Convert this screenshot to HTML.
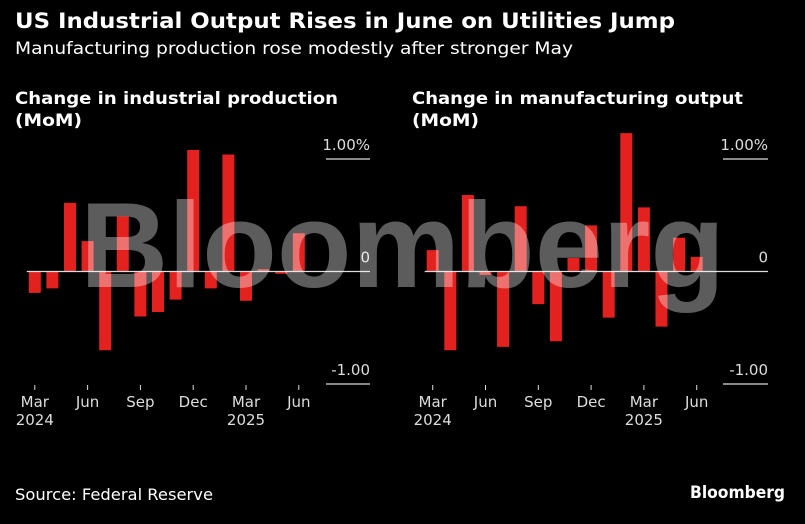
<!DOCTYPE html>
<html><head><meta charset="utf-8"><style>
html,body{margin:0;padding:0;background:#000;}
body{width:805px;height:520px;overflow:hidden;font-family:"DejaVu Sans","Liberation Sans",sans-serif;}
svg text{font-family:"DejaVu Sans","Liberation Sans",sans-serif;}
svg text.wm{font-family:"Liberation Sans",sans-serif;}
</style></head><body>
<svg width="805" height="520" viewBox="0 0 805 520" id="fig">
<rect width="805" height="520" fill="#000"/>
<text x="15" y="28" fill="#fff" font-size="21" font-weight="bold" textLength="660" lengthAdjust="spacingAndGlyphs">US Industrial Output Rises in June on Utilities Jump</text>
<text x="15" y="54" fill="#fff" font-size="17" textLength="558" lengthAdjust="spacingAndGlyphs">Manufacturing production rose modestly after stronger May</text>
<text x="15" y="104" fill="#fff" font-size="17" font-weight="bold" textLength="323" lengthAdjust="spacingAndGlyphs">Change in industrial production</text>
<text x="15" y="126" fill="#fff" font-size="17" font-weight="bold" textLength="67" lengthAdjust="spacingAndGlyphs">(MoM)</text>
<text x="412" y="104" fill="#fff" font-size="17" font-weight="bold" textLength="331" lengthAdjust="spacingAndGlyphs">Change in manufacturing output</text>
<text x="412" y="126" fill="#fff" font-size="17" font-weight="bold" textLength="67" lengthAdjust="spacingAndGlyphs">(MoM)</text>
<g id="left"></g>
<g id="right"></g>
<text class="wm" x="80" y="287" fill="rgba(255,255,255,0.36)" font-size="122" font-weight="bold" textLength="645" lengthAdjust="spacingAndGlyphs">Bloomberg</text>
<text x="15" y="500" fill="#fff" font-size="16" textLength="198" lengthAdjust="spacingAndGlyphs">Source: Federal Reserve</text>
<text x="690" y="498" fill="#fff" font-size="17" font-weight="bold" textLength="95" lengthAdjust="spacingAndGlyphs">Bloomberg</text>
</svg>
<script>
const months = ["Mar","Apr","May","Jun","Jul","Aug","Sep","Oct","Nov","Dec","Jan","Feb","Mar","Apr","May","Jun"];
const industrialValues = [-0.19,-0.15,0.61,0.27,-0.70,0.49,-0.40,-0.36,-0.25,1.08,-0.15,1.04,-0.26,0.02,-0.02,0.34];
const manufacturingValues = [0.19,-0.70,0.68,-0.03,-0.67,0.58,-0.29,-0.62,0.12,0.41,-0.41,1.23,0.57,-0.49,0.30,0.13];
const tickIdx = [0,3,6,9,12,15];
const tickLabels = ["Mar","Jun","Sep","Dec","Mar","Jun"];
const yearLabels = ["2024","","","","2025",""];
const yTicks = [1,0,-1];
const yTickLabels = ["1.00%","0","-1.00"];
const NS="http://www.w3.org/2000/svg";
function mk(tag,attrs,parent){const e=document.createElementNS(NS,tag);for(const k in attrs)e.setAttribute(k,attrs[k]);parent.appendChild(e);return e;}
function panel(g,values,x0,gx0,gx1,prefix){
  const zeroY=271.5, scale=112.5, step=17.6;
  const x=i=>x0+i*step, y=v=>zeroY-v*scale;
  yTicks.forEach((t,i)=>{
    if(t!==0){const l=mk('line',{x1:gx0,x2:gx1,y1:y(t),y2:y(t),stroke:'#ddd','stroke-width':1.3},g);
      
      }
    const tx=mk('text',{x:gx1,y:y(t)-9,fill:'#ddd','font-size':15,'text-anchor':'end'},g);
    tx.textContent=yTickLabels[i];
    
    
  });
  values.forEach((v,i)=>{
    const r=mk('rect',{x:x(i)-6,width:12,y:Math.min(y(v),zeroY),height:Math.max(Math.abs(y(v)-zeroY),1.5),fill:'#e3211f'},g);
    
    
  });
  const z=mk('line',{x1:x(0)-8,x2:gx1,y1:zeroY,y2:zeroY,stroke:'#ddd','stroke-width':1.3},g);
  
  
  tickIdx.forEach((ti,i)=>{
    const tk=mk('line',{x1:x(ti),x2:x(ti),y1:385,y2:390,stroke:'#ddd','stroke-width':1},g);
    
    
    const t=mk('text',{x:x(ti),y:407,fill:'#ddd','font-size':15,'text-anchor':'middle'},g);
    t.textContent=tickLabels[i];
    
    
    if(yearLabels[i]){const yt=mk('text',{x:x(ti),y:425,fill:'#ddd','font-size':15,'text-anchor':'middle'},g);
      yt.textContent=yearLabels[i];
      
      }
  });
}
panel(document.getElementById('left'),industrialValues,34.8,326,370,'industrial');
panel(document.getElementById('right'),manufacturingValues,432.7,723,768,'manufacturing');
</script>
</body></html>
